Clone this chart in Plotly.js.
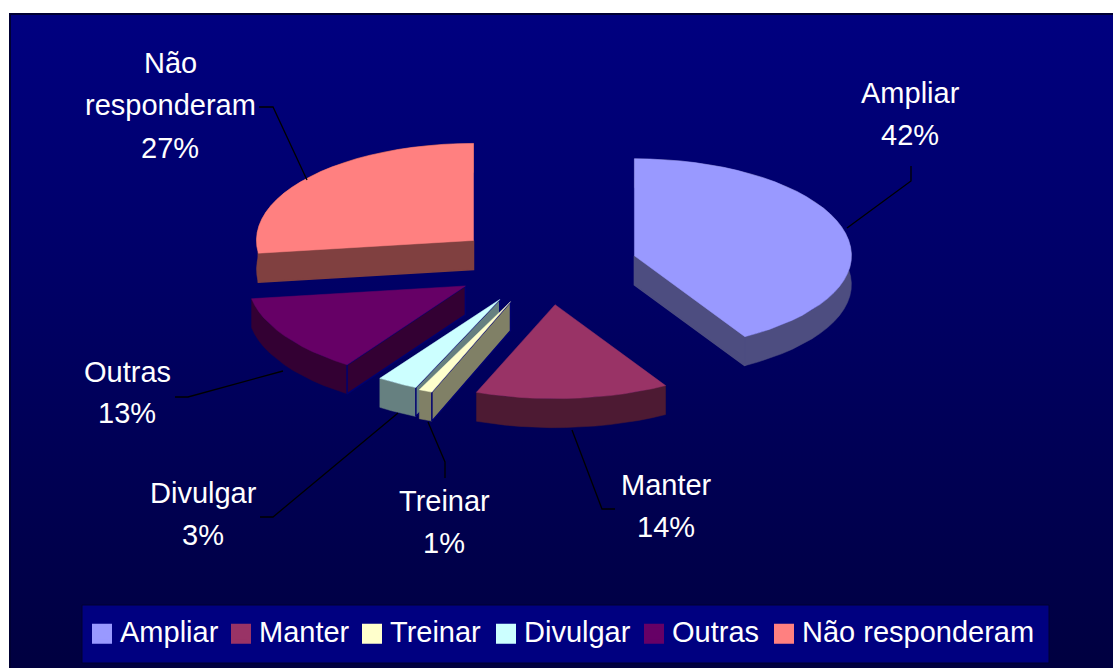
<!DOCTYPE html>
<html>
<head>
<meta charset="utf-8">
<script src="https://cdn.plot.ly/plotly-3.0.1.min.js"></script>
<style>
html,body{margin:0;padding:0;background:#fff;width:1113px;height:668px;overflow:hidden}
#frame{position:absolute;left:9px;top:13px;width:1104px;height:655px;box-sizing:border-box;
 border-left:2px solid #000033;border-top:2px solid #000033;
 background:linear-gradient(to bottom,#000080 0%,#000040 100%)}
#chart{position:absolute;left:0;top:0;width:1113px;height:668px}
.legendtext,.legend2text,.legend3text,.legend4text,.legend5text,.legend6text{transform:translate(-2px,-3px)}
</style>
</head>
<body>
<div id="frame"></div>
<div id="chart"></div>
<script>
// Data: unrounded shares; labels show them rounded
const categories = ['Ampliar','Manter','Treinar','Divulgar','Outras','Não responderam'];
const shares     = [41.5,14.4,1.0,3.0,13.0,27.1];
const topColors  = ['#9999ff','#993366','#ffffcc','#ccffff','#660066','#ff8080'];
const wallColors = ['#4d4d80','#4d1a33','#808066','#668080','#330033','#804040'];
const seamColors = ['#4d4d80','#4d1a33','#000070','#000070','#000070','#804040'];
const drawOrder  = [5,0,4,1,3,2];
const labelLines = [['Ampliar'],['Manter'],['Treinar'],['Divulgar'],['Outras'],['Não','responderam']];

// Projection of the tilted, exploded pie (the original's perspective differs a little per slice)
const CX=544, CY=266, RX=217, RY=97, EXPLODE_X=0.432, EXPLODE_Y=0.40, DEPTH=29, STEP=4, SHEAR=8;
const rimShear = [0,0,0,8,10,0];
const rimFrontRY = [94,94,97,97,97,97];
const total = shares.reduce((a,b)=>a+b,0);
let cum=0;
const slices = shares.map(p=>{const a0=cum/total*360; cum+=p; return {a0,a1:cum/total*360};});
const rad = d=>d*Math.PI/180;

function sliceGeom(s,i){
  const mid=rad((s.a0+s.a1)/2);
  const ax=CX+EXPLODE_X*(RX*Math.sin(mid)+SHEAR*Math.max(0,-Math.cos(mid)));
  const ay=CY-EXPLODE_Y*RY*Math.cos(mid);
  const pts=[];
  const n=Math.max(1,Math.round((s.a1-s.a0)/STEP));
  for(let k=0;k<=n;k++){
    const t=rad(s.a0+(s.a1-s.a0)*k/n), c=Math.cos(t);
    pts.push([ax+RX*Math.sin(t)+rimShear[i]*Math.max(0,-c), ay-(c<0?rimFrontRY[i]:RY)*c]);
  }
  return {ax,ay,pts};
}
const poly=(pts,color,lineColor,lw)=>({
  type:'scatter',mode:'lines',x:pts.map(p=>p[0]).concat(pts[0][0]),y:pts.map(p=>p[1]).concat(pts[0][1]),
  fill:'toself',fillcolor:color,line:{color:lineColor||color,width:lw===undefined?0.5:lw},
  hoverinfo:'skip',showlegend:false
});
const traces=[];
drawOrder.forEach(i=>{
  const s=slices[i], g=sliceGeom(s,i);
  const down=p=>[p[0],p[1]+DEPTH];
  const first=g.pts[0], last=g.pts[g.pts.length-1];
  const apex=[g.ax,g.ay];
  traces.push(poly(g.pts.concat(g.pts.map(down).reverse()),wallColors[i]));
  if(Math.sin(rad(s.a0))<-1e-6) traces.push(poly([apex,first,down(first),down(apex)],wallColors[i],seamColors[i],1.5));
  if(Math.sin(rad(s.a1))>1e-6)  traces.push(poly([apex,last,down(last),down(apex)],wallColors[i],seamColors[i],1.5));
  traces.push(poly([apex].concat(g.pts),topColors[i]));
});

// One single-entry legend per category, to hold the reference's spacing
const legendX=[82,221,352,486,634,764];
const layoutLegends={};
categories.forEach((c,i)=>{
  const key=i===0?'legend':'legend'+(i+1);
  traces.push({type:'scatter',mode:'markers',x:[null],y:[null],name:c,legend:key,
    marker:{symbol:'square',size:16,color:topColors[i],line:{color:topColors[i],width:4}}});
  layoutLegends[key]={x:legendX[i]/1113,xanchor:'left',y:1-634/668,yanchor:'middle',
    bgcolor:'rgba(0,0,0,0)',borderwidth:0,itemwidth:30,
    font:{family:'Liberation Sans, Arial, sans-serif',size:29,color:'#ffffff'}};
});

// Slice labels
const labelX=[910,666,444,203,127,170];
const labelY=[[93,135],[485,527],[501,543],[493,535],[372,413],[63,105,148]];
const annotations=[];
categories.forEach((c,i)=>{
  labelLines[i].concat([Math.round(shares[i])+'%']).forEach((t,j)=>{
    annotations.push({xref:'x',yref:'y',x:labelX[i],y:labelY[i][j],text:t,showarrow:false,
      xanchor:'center',yanchor:'middle',
      font:{family:'Liberation Sans, Arial, sans-serif',size:29,color:'#ffffff'}});
  });
});

// Leader lines
const leaders=[
 'M911,166 L911,181 L847,228',
 'M615,509 L602,509 L572,430',
 'M445,478 L445,462 L428,422',
 'M260,517 L273,517 L398,413',
 'M175,397 L188,397 L283,371',
 'M259,107 L273,107 L307,180'
];
const shapes=[{type:'rect',xref:'x',yref:'y',x0:82,x1:1049,y0:605,y1:663,layer:'below',
  fillcolor:'#000080',line:{color:'#000030',width:1}}];
leaders.forEach(p=>shapes.push({type:'path',xref:'x',yref:'y',path:p,layer:'above',line:{color:'#000000',width:1.3}}));

const layout=Object.assign({
  width:1113,height:668,margin:{l:0,r:0,t:0,b:0},
  paper_bgcolor:'rgba(0,0,0,0)',plot_bgcolor:'rgba(0,0,0,0)',
  xaxis:{range:[0,1113],visible:false,fixedrange:true},
  yaxis:{range:[668,0],visible:false,fixedrange:true},
  shapes,annotations,hovermode:false
},layoutLegends);
Plotly.newPlot('chart',traces,layout,{displayModeBar:false,staticPlot:true});
</script>
</body>
</html>
